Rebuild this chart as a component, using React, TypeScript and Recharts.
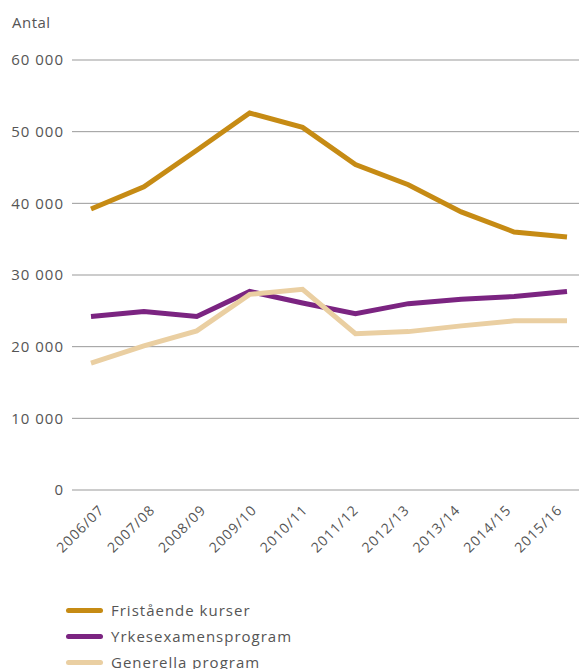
import { LineChart, Line, XAxis, YAxis, CartesianGrid } from 'recharts';

const years = ['2006/07', '2007/08', '2008/09', '2009/10', '2010/11', '2011/12', '2012/13', '2013/14', '2014/15', '2015/16'];
const fristaende = [39200, 42300, 47400, 52600, 50600, 45400, 42600, 38800, 36000, 35300];
const yrkesexamen = [24200, 24900, 24200, 27700, 26100, 24600, 26000, 26600, 27000, 27700];
const generella = [17700, 20100, 22200, 27300, 28000, 21800, 22100, 22900, 23600, 23600];
const yTicks = [0, 10000, 20000, 30000, 40000, 50000, 60000];

const series = [
  { key: 'fristaende', name: 'Fristående kurser', color: '#C68B14' },
  { key: 'yrkesexamen', name: 'Yrkesexamensprogram', color: '#7B2481' },
  { key: 'generella', name: 'Generella program', color: '#EACFA2' },
];

const chartData = years.map((year, i) => ({
  year,
  fristaende: fristaende[i],
  yrkesexamen: yrkesexamen[i],
  generella: generella[i],
}));

const FONT = '"Open Sans", sans-serif';
const TEXT = '#555';

const formatThousands = (v: number) =>
  v === 0 ? '0' : `${Math.floor(v / 1000)}\u00a0${String(v % 1000).padStart(3, '0')}`;

// the rotated labels sit slightly tighter than the data points, so drift them left a bit per index
const RotatedTick = ({ x, y, index, payload }: { x?: number; y?: number; index?: number; payload?: { value: string } }) => (
  <g transform={`translate(${(x ?? 0) + 14 - 2 * (index ?? 0)},${(y ?? 0) + 13})`}>
    <text textAnchor="end" transform="rotate(-45)" fill={TEXT} fontSize={14} fontFamily={FONT} letterSpacing={1}>
      {payload?.value}
    </text>
  </g>
);

export default function App() {
  return (
    <div style={{ position: 'absolute', left: 0, top: 0, width: 579, height: 669, background: '#fff', fontFamily: FONT, overflow: 'hidden' }}>
      <div style={{ position: 'absolute', left: 12, top: 12, fontSize: 15, color: TEXT, letterSpacing: 0.5 }}>Antal</div>
      <LineChart width={579} height={669} data={chartData} margin={{ top: 60, right: 0, bottom: 109, left: 0 }}>
        <CartesianGrid vertical={false} stroke="#999" strokeWidth={1} />
        <XAxis
          dataKey="year"
          height={70}
          axisLine={false}
          tickLine={false}
          interval={0}
          padding={{ left: 19, right: 12 }}
          tick={<RotatedTick />}
        />
        <YAxis
          width={72}
          domain={[0, 60000]}
          ticks={yTicks}
          axisLine={false}
          tickLine={false}
          tickFormatter={formatThousands}
          tick={{ fill: TEXT, fontSize: 15, fontFamily: FONT, letterSpacing: 1 }}
        />
        {series.map(s => (
          <Line
            key={s.key}
            dataKey={s.key}
            name={s.name}
            stroke={s.color}
            strokeWidth={5}
            dot={false}
            type="linear"
            isAnimationActive={false}
          />
        ))}
      </LineChart>
      <div style={{ position: 'absolute', left: 66, top: 597 }}>
        {series.map(s => (
          <div key={s.key} style={{ display: 'flex', alignItems: 'center', height: 26 }}>
            <span style={{ width: 37, height: 5, borderRadius: 3, background: s.color, display: 'inline-block', marginRight: 8 }} />
            <span style={{ fontSize: 15, color: TEXT, letterSpacing: 1 }}>{s.name}</span>
          </div>
        ))}
      </div>
    </div>
  );
}
